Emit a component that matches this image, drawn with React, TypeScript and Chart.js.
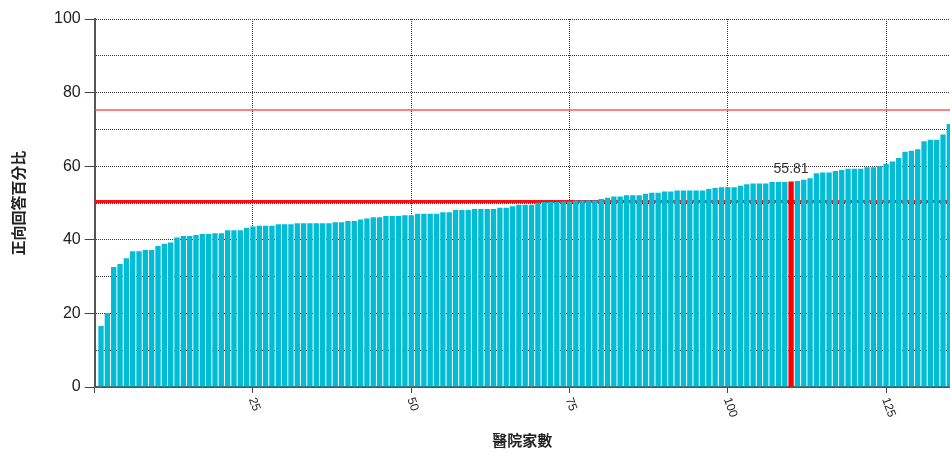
import React, { useEffect, useRef } from 'react';
import { Chart, registerables } from 'chart.js';

Chart.register(...registerables);

// Sorted positive-response percentage per hospital (hospital rank 1..135)
const percentValues: number[] = [
  16.6, 20.1, 32.6, 33.4, 35.0, 36.9, 36.9, 37.2, 37.2, 38.3,
  38.9, 39.3, 40.6, 41.0, 41.0, 41.3, 41.6, 41.6, 41.8, 41.8,
  42.6, 42.6, 42.6, 43.2, 43.6, 43.8, 43.8, 43.8, 44.2, 44.2,
  44.2, 44.5, 44.5, 44.5, 44.5, 44.5, 44.5, 44.8, 44.8, 45.1,
  45.1, 45.5, 45.8, 46.1, 46.1, 46.5, 46.5, 46.5, 46.7, 46.7,
  47.1, 47.1, 47.1, 47.1, 47.5, 47.5, 48.1, 48.1, 48.1, 48.4,
  48.4, 48.4, 48.4, 48.7, 48.7, 49.1, 49.5, 49.5, 49.5, 50.1,
  50.3, 50.3, 50.3, 50.4, 50.4, 50.7, 50.7, 50.7, 50.7, 51.1,
  51.4, 51.8, 51.8, 52.1, 52.1, 52.1, 52.5, 52.8, 52.8, 53.1,
  53.1, 53.4, 53.4, 53.4, 53.4, 53.4, 53.8, 54.1, 54.3, 54.3,
  54.3, 54.7, 55.1, 55.3, 55.3, 55.3, 55.7, 55.7, 55.7, 55.81,
  56.0, 56.3, 56.7, 58.1, 58.3, 58.3, 58.7, 59.0, 59.3, 59.3,
  59.3, 59.7, 59.7, 60.0, 60.6, 61.3, 62.2, 63.9, 64.2, 64.6,
  66.8, 67.2, 67.2, 68.6, 71.5,
];
const hospitalRanks: number[] = percentValues.map((_, i) => i + 1);

const xTickValues: number[] = [0, 25, 50, 75, 100, 125];
const xMax = 135.1;
const yMin = 0;
const yMax = 100;
const yGridStep = 10;
const yLabelStep = 20;

const highlightRank = 110;
const highlightLabel = '55.81';
const upperLineValue = 75.3;
const averageLineValue = 50.4;

const xTitle = '醫院家數';
const yTitle = '正向回答百分比';

const BAR_COLOR = '#00BCD4';
const HIGHLIGHT_COLOR = '#FF0000';

const overlayPlugin = {
  id: 'overlayPlugin',
  beforeDatasetsDraw(chart: any) {
    const { ctx, chartArea, scales } = chart;
    const y = scales.y;
    ctx.save();
    const yUp = y.getPixelForValue(upperLineValue);
    ctx.strokeStyle = 'rgba(255,70,70,0.9)';
    ctx.lineWidth = 1.5;
    ctx.beginPath();
    ctx.moveTo(chartArea.left, yUp);
    ctx.lineTo(chartArea.right, yUp);
    ctx.stroke();
    const yAvg = y.getPixelForValue(averageLineValue);
    ctx.strokeStyle = '#FF1010';
    ctx.lineWidth = 3;
    ctx.beginPath();
    ctx.moveTo(chartArea.left, yAvg);
    ctx.lineTo(chartArea.right, yAvg);
    ctx.stroke();
    ctx.restore();
  },
  afterDatasetsDraw(chart: any) {
    const { ctx } = chart;
    const meta = chart.getDatasetMeta(0);
    const bar = meta.data[highlightRank - 1];
    if (!bar) return;
    ctx.save();
    ctx.font = '14px "Liberation Sans", Arial, sans-serif';
    ctx.fillStyle = '#333';
    ctx.textAlign = 'center';
    ctx.textBaseline = 'alphabetic';
    ctx.fillText(highlightLabel, bar.x, bar.y - 9);
    ctx.restore();
  },
  afterDraw(chart: any) {
    const { ctx } = chart;
    const x = chart.scales.x;
    ctx.save();
    ctx.font = '12px "Liberation Sans", Arial, sans-serif';
    ctx.fillStyle = '#222';
    ctx.textAlign = 'left';
    ctx.textBaseline = 'middle';
    xTickValues.forEach((v) => {
      if (v === 0) return;
      const px = x.getPixelForValue(v);
      ctx.save();
      ctx.translate(px - 1, x.top + 11);
      ctx.rotate((70 * Math.PI) / 180);
      ctx.fillText(String(v), 0, 0);
      ctx.restore();
    });
    ctx.restore();
  },
};

export default function App() {
  const canvasRef = useRef<HTMLCanvasElement | null>(null);

  useEffect(() => {
    if (!canvasRef.current) return;
    Chart.defaults.font.family = '"Liberation Sans", Arial, sans-serif';
    const chart = new Chart(canvasRef.current, {
      type: 'bar',
      data: {
        datasets: [
          {
            data: hospitalRanks.map((r, i) => ({ x: r, y: percentValues[i] })),
            backgroundColor: hospitalRanks.map((r) => (r === highlightRank ? HIGHLIGHT_COLOR : BAR_COLOR)),
            borderWidth: 0,
            barPercentage: 0.84,
            categoryPercentage: 1,
          },
        ],
      },
      options: {
        responsive: false,
        animation: false,
        devicePixelRatio: 1,
        layout: { padding: { top: 19, left: 0, right: 0, bottom: 0 } },
        plugins: {
          legend: { display: false },
          tooltip: { enabled: false },
        },
        scales: {
          x: {
            type: 'linear',
            min: 0,
            max: xMax,
            offset: false,
            afterBuildTicks: (scale: any) => {
              scale.ticks = xTickValues.map((value) => ({ value }));
            },
            afterFit: (scale: any) => {
              scale.height = 65;
              scale.paddingLeft = 0;
              scale.paddingRight = 0;
            },
            ticks: { display: false },
            grid: {
              offset: false,
              color: '#333',
              lineWidth: 1,
              tickLength: 6,
              tickColor: '#444',
              tickBorderDash: [],
            },
            border: { display: true, color: '#555', width: 2, dash: [1, 1] },
            title: {
              display: true,
              text: xTitle,
              color: '#222',
              font: { family: '"Noto Sans CJK TC", sans-serif', size: 15, weight: 'bold' },
              padding: { top: 0, bottom: 3 },
            },
          },
          y: {
            type: 'linear',
            min: yMin,
            max: yMax,
            afterFit: (scale: any) => {
              scale.width = 94.7;
              scale.paddingTop = 0;
              scale.paddingBottom = 0;
            },
            ticks: {
              stepSize: yGridStep,
              color: '#222',
              font: { size: 16 },
              padding: 4,
              callback: (v: any) => (Number(v) % yLabelStep === 0 ? String(v) : ''),
            },
            grid: {
              color: '#333',
              lineWidth: 1,
              tickLength: 10,
              tickBorderDash: [],
              tickColor: (ctx: any) =>
                ctx.tick && ctx.tick.value % yLabelStep === 0 ? '#444' : 'rgba(0,0,0,0)',
            },
            border: { display: true, color: '#555', width: 2, dash: [1, 1] },
            title: {
              display: true,
              text: yTitle,
              color: '#222',
              font: { family: '"Noto Sans CJK TC", sans-serif', size: 15, weight: 'bold' },
              padding: { top: 9, bottom: 0 },
            },
          },
        },
      },
      plugins: [overlayPlugin],
    } as any);
    return () => chart.destroy();
  }, []);

  return (
    <div style={{ position: 'fixed', left: 0, top: 0, width: 950, height: 452, background: '#fff' }}>
      <canvas ref={canvasRef} width={950} height={452} style={{ display: 'block' }} />
    </div>
  );
}
